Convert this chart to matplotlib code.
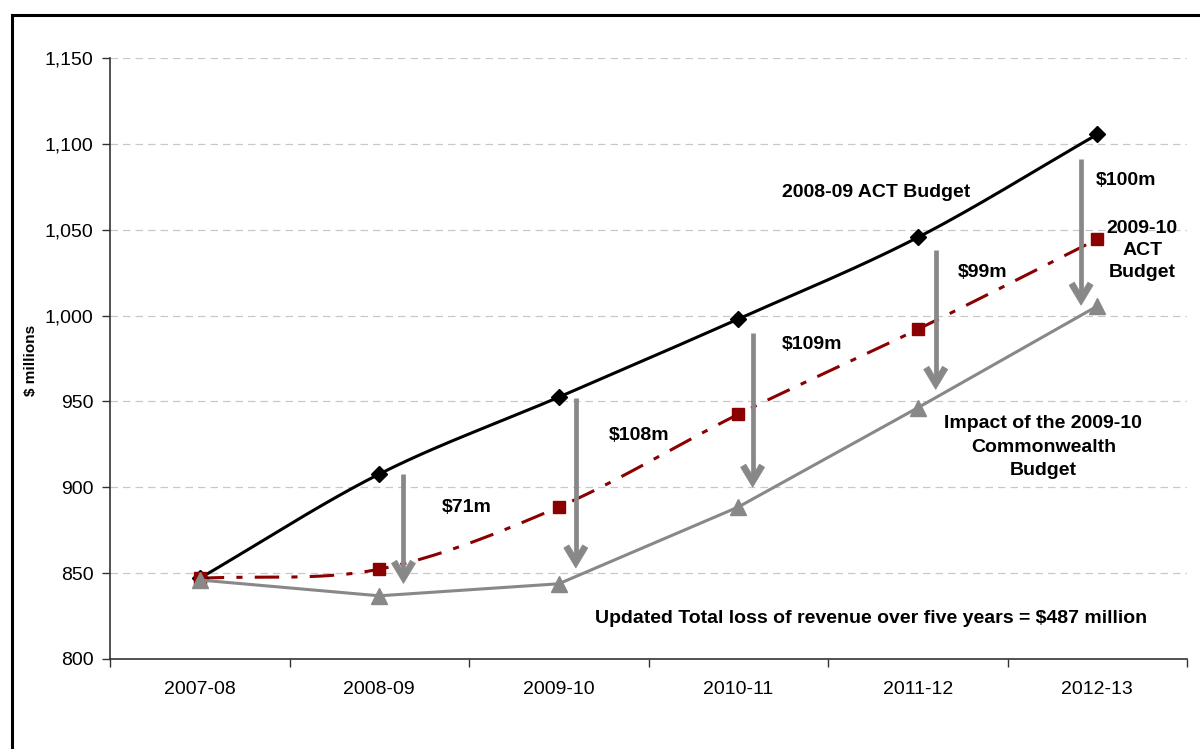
import numpy as np
import matplotlib
matplotlib.use("Agg")
import matplotlib.pyplot as plt
from matplotlib.patches import Rectangle, Polygon
from matplotlib.transforms import Affine2D

plt.rcParams['font.family'] = ['Liberation Sans', 'DejaVu Sans']

categories = ["2007-08", "2008-09", "2009-10", "2010-11", "2011-12", "2012-13"]
budget_0809 = [847, 907.7, 952.5, 998, 1045.5, 1105.5]
budget_0910 = [847, 852.3, 888.5, 942.5, 992, 1044.5]
commonwealth = [846, 836.8, 843.8, 888.5, 946.3, 1005.5]
yticks = [800, 850, 900, 950, 1000, 1050, 1100, 1150]
loss_labels = ["$71m", "$108m", "$109m", "$99m", "$100m"]

# arrow annotation geometry (x position, top, tip)
arrow_x = [1.135, 2.095, 3.08, 4.10, 4.91]
arrow_top = [908, 952, 990, 1038, 1091]
arrow_tip = [844, 853, 900, 957, 1006]
label_pos = [(1.49, 888), (2.45, 930), (3.41, 983), (4.36, 1025), (5.16, 1078.5)]


def catmull_rom(xs, ys, n=40):
    xs = np.asarray(xs, float)
    ys = np.asarray(ys, float)
    px = np.concatenate([[2 * xs[0] - xs[1]], xs, [2 * xs[-1] - xs[-2]]])
    py = np.concatenate([[2 * ys[0] - ys[1]], ys, [2 * ys[-1] - ys[-2]]])
    outx, outy = [], []
    for i in range(1, len(px) - 2):
        t = np.linspace(0, 1, n)
        for arr, out in ((px, outx), (py, outy)):
            p0, p1, p2, p3 = arr[i - 1], arr[i], arr[i + 1], arr[i + 2]
            out.extend(0.5 * ((2 * p1) + (-p0 + p2) * t +
                              (2 * p0 - 5 * p1 + 4 * p2 - p3) * t ** 2 +
                              (-p0 + 3 * p1 - 3 * p2 + p3) * t ** 3))
    return np.array(outx), np.array(outy)


fig = plt.figure(figsize=(12, 7.49), dpi=100)
ax = fig.add_axes([110 / 1200, 1 - 659 / 749, (1187 - 110) / 1200, (659 - 58) / 749])

x = np.arange(len(categories))
ax.set_xlim(-0.5, len(categories) - 0.5)
ax.set_ylim(800, 1150)

for y in yticks[1:]:
    ax.axhline(y, color='#c8c8c8', lw=0.9, ls=(0, (6, 4)), zorder=0)

# black smoothed line
sx, sy = catmull_rom(x, budget_0809)
ax.plot(sx, sy, color='black', lw=2.2, zorder=3)
ax.plot(x, budget_0809, ls='none', marker='D', ms=8, color='black', zorder=4)

# red dash-dot smoothed line
sx, sy = catmull_rom(x, budget_0910)
ax.plot(sx, sy, color='#8b0000', lw=2.2, ls=(0, (8, 4, 2, 4)), zorder=3)
ax.plot(x, budget_0910, ls='none', marker='s', ms=9, color='#8b0000', zorder=4)

# gray line
ax.plot(x, commonwealth, color='#888888', lw=2.2, marker='^', ms=11,
        markeredgecolor='#888888', zorder=5)

# arrows: shaft + chevron head drawn in pixel offsets from the tip
head = np.array([[0, 0], [-12, 20], [-6.85, 23.1], [0, 11.7], [6.85, 23.1], [12, 20]])
for xa, yt, yb in zip(arrow_x, arrow_top, arrow_tip):
    ax.plot([xa, xa], [yt, yb + 5], color='#888888', lw=3.4, solid_capstyle='butt', zorder=6)
    px, py = ax.transData.transform((xa, yb))
    tr = Affine2D().translate(px, py)
    ax.add_patch(Polygon(head, closed=True, transform=tr, facecolor='#888888',
                         edgecolor='#888888', lw=0.5, zorder=7))

for lab, (lx, ly) in zip(loss_labels, label_pos):
    ax.text(lx, ly, lab, ha='center', va='center', fontsize=14, fontweight='bold')

ax.text(3.77, 1071.4, "2008-09 ACT Budget", ha='center', va='center',
        fontsize=14, fontweight='bold')
ax.text(5.25, 1038, "2009-10\nACT\nBudget", ha='center', va='center',
        fontsize=14, fontweight='bold', linespacing=1.38)
ax.text(4.70, 923.4, "Impact of the 2009-10\nCommonwealth\nBudget", ha='center',
        va='center', fontsize=14, fontweight='bold', linespacing=1.5)
ax.text(3.74, 823.3, "Updated Total loss of revenue over five years = $487 million",
        ha='center', va='center', fontsize=14, fontweight='bold')

ax.set_yticks(yticks)
ax.set_yticklabels([f"{v:,}" for v in yticks], fontsize=14)
ax.set_xticks(x)
ax.set_xticklabels(categories, fontsize=14)
ax.set_xticks(np.arange(-0.5, len(categories)), minor=True)
ax.tick_params(axis='x', which='major', length=0, pad=16)
ax.tick_params(axis='x', which='minor', length=6, width=1, color='#333333', direction='out')
ax.tick_params(axis='y', length=6, width=1, color='#333333', direction='out', pad=6)
for s in ['top', 'right']:
    ax.spines[s].set_visible(False)
for s in ['left', 'bottom']:
    ax.spines[s].set_color('#333333')
    ax.spines[s].set_linewidth(1.2)

ax.set_ylabel("$ millions", fontsize=11, fontweight='bold')
ax.yaxis.set_label_coords(-0.067, 0.497)

fig.patches.append(Rectangle((12 / 1200, -0.1), 1.2, 1 - 15 / 749 + 0.1,
                             transform=fig.transFigure, fill=False,
                             edgecolor='black', lw=2.2, zorder=10))

fig.savefig("out.png", dpi=100)
